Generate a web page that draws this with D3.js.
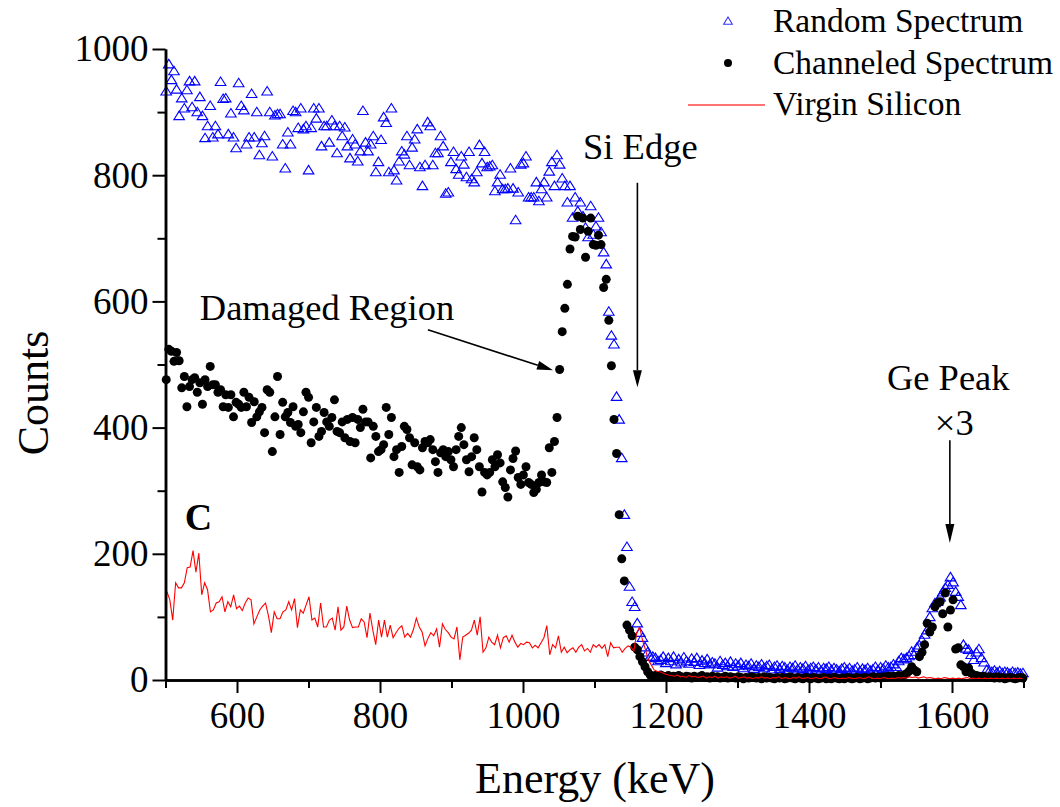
<!DOCTYPE html>
<html><head><meta charset="utf-8">
<script src="https://cdn.jsdelivr.net/npm/d3@7"></script>
<style>body{margin:0;background:#fff}svg{display:block}</style>
</head><body>
<svg id="chart" width="1060" height="807"></svg>
<script>
// ---------- DATA ----------
const xMajorTicks = [600, 800, 1000, 1200, 1400, 1600];
const xMinorTicks = [500, 700, 900, 1100, 1300, 1500, 1700];
const yMajorTicks = [0, 200, 400, 600, 800, 1000];
const yMinorTicks = [100, 300, 500, 700, 900];
const legendLabels = ["Random Spectrum", "Channeled Spectrum", "Virgin Silicon"];

// channel calibration (keV)
const channelStart = 501, channelStep = 3.62;
const virginStart = 502, virginStep = 4.056;

const randomCounts = [
933,976,951,965,936,894,922,906,935,949,
908,949,900,924,894,859,878,910,860,878,
865,948,921,922,865,898,860,843,946,910,
903,849,860,929,860,900,832,851,862,933,
900,830,895,897,897,849,811,868,849,902,
900,875,906,873,878,808,875,906,890,906,
846,878,878,852,887,878,835,878,862,876,
846,827,857,849,822,838,902,852,838,849,
862,805,821,856,892,883,805,906,808,792,
822,838,833,862,816,844,857,873,813,783,
816,884,878,816,835,835,862,846,771,
773,821,837,810,801,830,817,797,837,794,
789,805,848,819,837,813,814,816,775,789,
801,778,778,779,811,779,729,773,817,819,
830,765,765,765,789,759,778,789,765,806,
821,783,832,817,795,783,757,783,733,765,
743,757,735,717,702,751,706,719,733,710,
678,659,
584,546,532,449,413,352,262,211,148,124,116,90,75,67,52,44,37,37,35,30,
32,37,27,35,30,37,25,33,28,36,
30,26,34,29,35,24,31,27,33,25,
28,26,20,30,24,27,22,29,21,26,
23,27,19,24,22,26,18,23,21,25,
19,22,24,17,21,23,18,22,20,16,
21,19,23,17,20,18,22,16,19,21,
17,20,15,19,18,21,16,19,17,14,
18,20,16,19,15,17,20,14,18,16,
19,15,17,21,16,20,18,23,20,
21,25,21,30,35,33,35,38,45,40,
51,55,63,72,79,100,114,122,124,131,
139,146,151,163,155,140,132,119,56,50,
48,40,32,44,49,35,28,16,14,
13,15,12,14,11,13,12,10,13,11,12,10,11
];

const channeledCounts = [
476,524,521,505,519,506,463,481,433,465,
476,479,456,471,437,476,465,497,468,468,
456,460,433,452,432,452,417,440,437,432,
456,433,448,408,441,417,425,432,392,460,
456,362,417,481,389,440,417,424,408,433,
402,405,392,425,456,448,376,409,432,386,
394,424,409,402,416,444,394,392,409,384,
413,378,416,376,413,400,429,409,409,352,
402,386,362,365,373,432,389,416,354,365,
329,370,402,397,384,341,376,338,333,368,
378,376,381,365,346,329,360,365,354,362,
349,338,365,386,400,373,349,330,354,384,
365,338,298,329,325,329,349,338,357,344,
314,305,290,333,351,363,321,310,325,338,
313,310,297,302,313,325,314,313,368,329,
378,416,492,552,589,627,683,703,702,735,
714,732,670,711,732,690,689,705,690,622,
635,570,498,413,359,262,192,157,87,79,
70,52,48,37,29,21,13,8,
6,7,5,8,6,5,7,4,6,5,
7,5,4,6,5,3,6,4,5,7,
4,5,3,6,4,5,3,4,6,3,
5,4,3,5,4,2,4,3,5,4,
3,4,2,5,3,4,3,2,4,3,
4,2,3,5,3,2,4,3,2,4,
3,2,4,3,2,3,4,2,3,2,
4,3,2,3,2,4,3,2,3,4,
2,3,4,2,3,5,3,4,3,5,
4,6,
5,6,5,7,6,8,10,14,21,16,
13,37,44,56,90,76,84,116,122,124,
105,138,84,111,127,49,51,24,21,13,
19,11,8,7,6,5,6,4,5,
4,3,5,3,4,2,3,4,3,2,3,4,3
];

const virginCounts = [
140,127,95,154,146,146,154,178,179,205,
171,201,135,154,143,108,111,122,124,132,
108,124,116,135,113,117,110,122,130,127,
89,100,111,117,122,102,75,108,97,97,
108,111,124,111,129,83,111,106,119,132,
95,98,84,122,84,84,95,98,79,116,
79,84,117,95,83,84,84,97,92,67,
106,79,56,95,68,95,68,87,67,75,
82,86,68,74,68,80,98,84,76,54,
66,75,70,81,52,89,80,75,68,65,
84,32,68,71,74,79,95,71,100,44,
51,68,60,56,71,51,67,70,60,71,
60,52,58,56,60,59,51,55,51,59,
67,86,40,56,51,70,44,52,43,48,
51,44,52,56,46,50,44,56,52,56,
50,56,37,59,51,52,52,44,50,54,
52,46,75,84,63,48,32,24,16,14,
13,11,9,8,
7,6,8,5,6,4,7,5,6,4,
5,6,3,5,4,6,3,5,4,5,
3,4,6,3,4,5,3,4,2,4,
3,5,3,4,2,4,3,5,2,4,
3,2,4,3,5,2,3,4,2,3,
4,2,3,5,3,2,4,3,2,3,
2,4,3,2,3,4,2,3,5,3,
2,3,2,4,3,2,3,2,4,3,
4,3,5,4,5,3,4,5,3,4,
3,2,3,2,4,3,2,3,2,3,
2,3,4,2,3,2,3,2,3,2,
3,2,3,2,3,2,3,2,3,2,
3,2
];

// ---------- CHART ----------
const FONT = "'Liberation Serif','Times New Roman',serif";
const svg = d3.select("#chart");
const x = d3.scaleLinear().domain([500, 1700]).range([165.5, 1023.5]);
const y = d3.scaleLinear().domain([0, 1000]).range([680, 49]);

const randomPts = randomCounts.map((v, i) => ({e: channelStart + i * channelStep, c: v}));
const channeledPts = channeledCounts.map((v, i) => ({e: channelStart + i * channelStep, c: v}));
const virginPts = virginCounts.map((v, i) => ({e: virginStart + i * virginStep, c: v}));

const triPath = "M0,-4.8L5.3,3.7L-5.3,3.7Z";

// random spectrum triangles
svg.append("g").selectAll("path").data(randomPts).join("path")
  .attr("d", triPath)
  .attr("transform", d => `translate(${x(d.e)},${y(d.c)})`)
  .attr("fill", "none").attr("stroke", "#0000ff").attr("stroke-width", 1.1);

// channeled dots
svg.append("g").selectAll("circle").data(channeledPts).join("circle")
  .attr("cx", d => x(d.e)).attr("cy", d => y(d.c)).attr("r", 4.5)
  .attr("fill", "#000");

// virgin line
svg.append("path").datum(virginPts)
  .attr("d", d3.line().x(d => x(d.e)).y(d => y(d.c)))
  .attr("fill", "none").attr("stroke", "#ff0000").attr("stroke-width", 1.1);

// axes
function styleAxis(g) {
  g.select(".domain").attr("stroke", "#000").attr("stroke-width", 2.5);
  g.selectAll(".tick line").attr("stroke", "#000").attr("stroke-width", 2);
  g.selectAll(".tick text").attr("font-family", FONT).attr("font-size", 37).attr("fill", "#000");
}
const xAxisMinor = svg.append("g").attr("transform", "translate(0,680)")
  .call(d3.axisBottom(x).tickValues(xMinorTicks).tickSize(8).tickSizeOuter(0).tickFormat(""));
styleAxis(xAxisMinor);
const xAxis = svg.append("g").attr("transform", "translate(0,680)")
  .call(d3.axisBottom(x).tickValues(xMajorTicks).tickSize(13).tickSizeOuter(0).tickPadding(9).tickFormat(d3.format("d")));
styleAxis(xAxis);
const yAxisMinor = svg.append("g").attr("transform", "translate(165.5,0)")
  .call(d3.axisLeft(y).tickValues(yMinorTicks).tickSize(8).tickSizeOuter(0).tickFormat(""));
styleAxis(yAxisMinor);
const yAxis = svg.append("g").attr("transform", "translate(165.5,0)")
  .call(d3.axisLeft(y).tickValues(yMajorTicks).tickSize(13).tickSizeOuter(0).tickPadding(4).tickFormat(d3.format("d")));
styleAxis(yAxis);

// axis titles
svg.append("text").attr("x", 595).attr("y", 793).attr("text-anchor", "middle")
  .attr("font-family", FONT).attr("font-size", 44).text("Energy (keV)");
svg.append("text").attr("transform", "translate(48,393) rotate(-90)").attr("text-anchor", "middle")
  .attr("font-family", FONT).attr("font-size", 44).text("Counts");

// legend
const lg = svg.append("g");
lg.append("path").attr("d", "M0,-4L4.3,3.2L-4.3,3.2Z").attr("transform", "translate(728,21)")
  .attr("fill", "none").attr("stroke", "#3333ff").attr("stroke-width", 1.1);
lg.append("circle").attr("cx", 728).attr("cy", 63).attr("r", 4).attr("fill", "#000");
lg.append("line").attr("x1", 688).attr("x2", 765).attr("y1", 105).attr("y2", 105)
  .attr("stroke", "#ff4444").attr("stroke-width", 1.3);
[32, 74, 115].forEach((by, i) => {
  lg.append("text").attr("x", 773).attr("y", by).attr("font-family", FONT).attr("font-size", 33.5)
    .text(legendLabels[i]);
});

// annotations
function arrow(x1, y1, x2, y2, len, halfW) {
  const ang = Math.atan2(y2 - y1, x2 - x1);
  const bx = x2 - len * Math.cos(ang), by = y2 - len * Math.sin(ang);
  svg.append("line").attr("x1", x1).attr("y1", y1).attr("x2", bx).attr("y2", by)
    .attr("stroke", "#000").attr("stroke-width", 1.6);
  const px = -Math.sin(ang) * halfW, py = Math.cos(ang) * halfW;
  svg.append("path").attr("d", `M${x2},${y2}L${bx + px},${by + py}L${bx - px},${by - py}Z`).attr("fill", "#000");
}
function label(t, xv, yv, size, bold) {
  svg.append("text").attr("x", x(xv)).attr("y", y(yv)).attr("font-family", FONT)
    .attr("font-size", size).attr("font-weight", bold ? "bold" : "normal").text(t);
}
label("Si Edge", 1084, 825, 36.5);
arrow(x(1160), y(788), x(1160), y(464), 17, 4.5);
label("Damaged Region", 548, 570, 36.5);
arrow(x(867), y(555), x(1042), y(491), 16, 4.5);
label("Ge Peak", 1509, 460, 36.5);
label("\u00d73", 1576, 388, 36.5);
arrow(x(1597), y(380), x(1597), y(217), 19, 4.5);
label("C", 527, 238, 38, true);
</script>
</body></html>
